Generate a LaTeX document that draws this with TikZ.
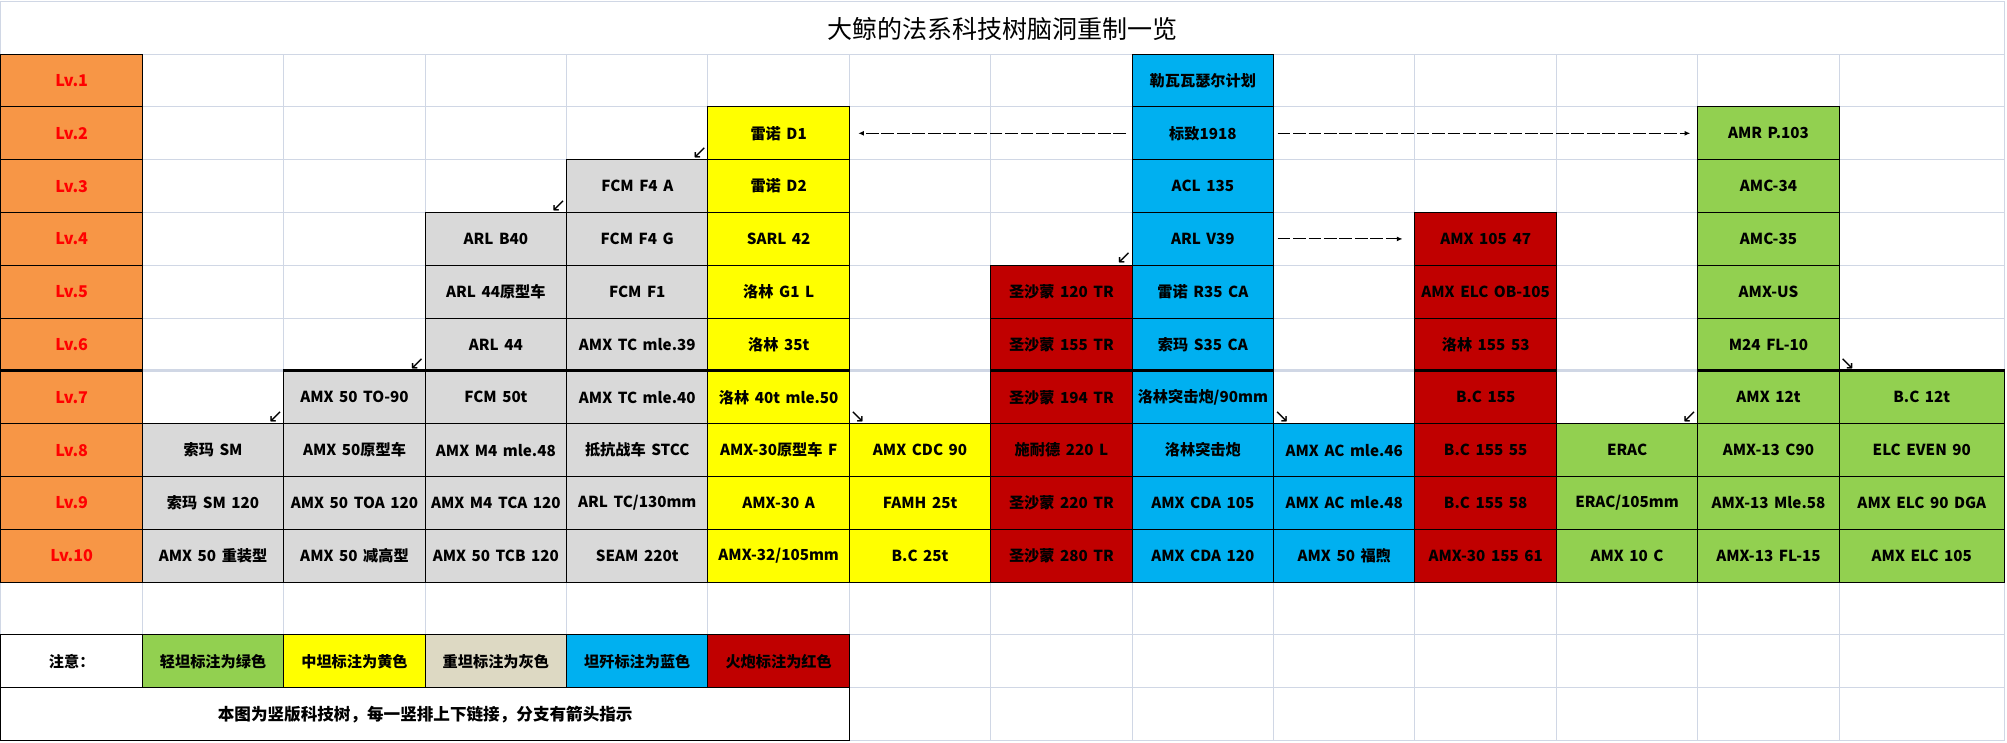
\documentclass[tikz,border=0pt]{standalone}
\usepackage{fontspec}
\setmainfont{Noto Sans CJK SC}[WordSpace=1.6]
\newfontfamily\symfont{DejaVu Sans}
\usetikzlibrary{arrows.meta}

\definecolor{lvorange}{HTML}{F79646}
\definecolor{lvred}{HTML}{FF0000}
\definecolor{heavygray}{HTML}{D9D9D9}
\definecolor{medyellow}{HTML}{FFFF00}
\definecolor{tdblue}{HTML}{00B0F0}
\definecolor{spgred}{HTML}{C00000}
\definecolor{lightgreen}{HTML}{92D050}
\definecolor{beige}{HTML}{DDD9C3}
\definecolor{gridc}{HTML}{D0D7E5}

\begin{document}
\begin{tikzpicture}[x=3.535cm, y=-1.32cm,
	cell/.style={draw=black, line width=0.7pt, minimum width=3.535cm, minimum height=1.32cm, inner sep=0pt, font=\bfseries\fontsize{10.8}{13}\selectfont},
	lv/.style={cell, fill=lvorange, text=lvred, font=\bfseries\fontsize{11.5}{14}\selectfont},
	heavy/.style={cell, fill=heavygray},
	medium/.style={cell, fill=medyellow},
	td/.style={cell, fill=tdblue},
	spg/.style={cell, fill=spgred},
	light/.style={cell, fill=lightgreen},
	wide/.style={minimum width=4.1325cm},
	corner/.style={font=\symfont\fontsize{13}{13}\selectfont, inner sep=0.5pt},
	link/.style={line width=0.7pt, dash pattern=on 9pt off 2pt, -{Latex[length=4pt,width=3.5pt]}}]

		\useasboundingbox (-0.007,-0.025) rectangle (14.187,14.047);

		% Grid
		\draw[gridc, line width=0.7pt] (0,0) rectangle (14.169,14);
		\foreach \i in {1,...,13} \draw[gridc, line width=0.7pt] (\i,1) -- (\i,14);
		\foreach \j in {1,...,13} \draw[gridc, line width=0.7pt] (0,\j) -- (14.169,\j);

		\node[font=\fontsize{17.8}{20}\selectfont] (title) at (7.084,0.52) {大鲸的法系科技树脑洞重制一览};

		% Levels
		\node[lv] (lv1) at (0.5,1.5) {Lv.1};
		\node[lv] (lv2) at (0.5,2.5) {Lv.2};
		\node[lv] (lv3) at (0.5,3.5) {Lv.3};
		\node[lv] (lv4) at (0.5,4.5) {Lv.4};
		\node[lv] (lv5) at (0.5,5.5) {Lv.5};
		\node[lv] (lv6) at (0.5,6.5) {Lv.6};
		\node[lv] (lv7) at (0.5,7.5) {Lv.7};
		\node[lv] (lv8) at (0.5,8.5) {Lv.8};
		\node[lv] (lv9) at (0.5,9.5) {Lv.9};
		\node[lv] (lv10) at (0.5,10.5) {Lv.10};

		% Heavy tanks
		\node[heavy] (c1_8) at (1.5,8.5) {索玛 SM};
		\node[heavy] (c1_9) at (1.5,9.5) {索玛 SM 120};
		\node[heavy] (c1_10) at (1.5,10.5) {AMX 50 重装型};

		\node[heavy] (c2_7) at (2.5,7.5) {AMX 50 TO-90};
		\node[heavy] (c2_8) at (2.5,8.5) {AMX 50原型车};
		\node[heavy] (c2_9) at (2.5,9.5) {AMX 50 TOA 120};
		\node[heavy] (c2_10) at (2.5,10.5) {AMX 50 减高型};

		\node[heavy] (c3_4) at (3.5,4.5) {ARL B40};
		\node[heavy] (c3_5) at (3.5,5.5) {ARL 44原型车};
		\node[heavy] (c3_6) at (3.5,6.5) {ARL 44};
		\node[heavy] (c3_7) at (3.5,7.5) {FCM 50t};
		\node[heavy] (c3_8) at (3.5,8.5) {AMX M4 mle.48};
		\node[heavy] (c3_9) at (3.5,9.5) {AMX M4 TCA 120};
		\node[heavy] (c3_10) at (3.5,10.5) {AMX 50 TCB 120};

		\node[heavy] (c4_3) at (4.5,3.5) {FCM F4 A};
		\node[heavy] (c4_4) at (4.5,4.5) {FCM F4 G};
		\node[heavy] (c4_5) at (4.5,5.5) {FCM F1};
		\node[heavy] (c4_6) at (4.5,6.5) {AMX TC mle.39};
		\node[heavy] (c4_7) at (4.5,7.5) {AMX TC mle.40};
		\node[heavy] (c4_8) at (4.5,8.5) {抵抗战车 STCC};
		\node[heavy] (c4_9) at (4.5,9.5) {ARL TC/130mm};
		\node[heavy] (c4_10) at (4.5,10.5) {SEAM 220t};

		% Medium tanks
		\node[medium] (c5_2) at (5.5,2.5) {雷诺 D1};
		\node[medium] (c5_3) at (5.5,3.5) {雷诺 D2};
		\node[medium] (c5_4) at (5.5,4.5) {SARL 42};
		\node[medium] (c5_5) at (5.5,5.5) {洛林 G1 L};
		\node[medium] (c5_6) at (5.5,6.5) {洛林 35t};
		\node[medium] (c5_7) at (5.5,7.5) {洛林 40t mle.50};
		\node[medium] (c5_8) at (5.5,8.5) {AMX-30原型车 F};
		\node[medium] (c5_9) at (5.5,9.5) {AMX-30 A};
		\node[medium] (c5_10) at (5.5,10.5) {AMX-32/105mm};

		\node[medium] (c6_8) at (6.5,8.5) {AMX CDC 90};
		\node[medium] (c6_9) at (6.5,9.5) {FAMH 25t};
		\node[medium] (c6_10) at (6.5,10.5) {B.C 25t};

		% Artillery
		\node[spg] (c7_5) at (7.5,5.5) {圣沙蒙 120 TR};
		\node[spg] (c7_6) at (7.5,6.5) {圣沙蒙 155 TR};
		\node[spg] (c7_7) at (7.5,7.5) {圣沙蒙 194 TR};
		\node[spg] (c7_8) at (7.5,8.5) {施耐德 220 L};
		\node[spg] (c7_9) at (7.5,9.5) {圣沙蒙 220 TR};
		\node[spg] (c7_10) at (7.5,10.5) {圣沙蒙 280 TR};

		% Tank destroyers
		\node[td] (c8_1) at (8.5,1.5) {勒瓦瓦瑟尔计划};
		\node[td] (c8_2) at (8.5,2.5) {标致1918};
		\node[td] (c8_3) at (8.5,3.5) {ACL 135};
		\node[td] (c8_4) at (8.5,4.5) {ARL V39};
		\node[td] (c8_5) at (8.5,5.5) {雷诺 R35 CA};
		\node[td] (c8_6) at (8.5,6.5) {索玛 S35 CA};
		\node[td] (c8_7) at (8.5,7.5) {洛林突击炮/90mm};
		\node[td] (c8_8) at (8.5,8.5) {洛林突击炮};
		\node[td] (c8_9) at (8.5,9.5) {AMX CDA 105};
		\node[td] (c8_10) at (8.5,10.5) {AMX CDA 120};

		\node[td] (c9_8) at (9.5,8.5) {AMX AC mle.46};
		\node[td] (c9_9) at (9.5,9.5) {AMX AC mle.48};
		\node[td] (c9_10) at (9.5,10.5) {AMX 50 福煦};

		\node[spg] (c10_4) at (10.5,4.5) {AMX 105 47};
		\node[spg] (c10_5) at (10.5,5.5) {AMX ELC OB-105};
		\node[spg] (c10_6) at (10.5,6.5) {洛林 155 53};
		\node[spg] (c10_7) at (10.5,7.5) {B.C 155};
		\node[spg] (c10_8) at (10.5,8.5) {B.C 155 55};
		\node[spg] (c10_9) at (10.5,9.5) {B.C 155 58};
		\node[spg] (c10_10) at (10.5,10.5) {AMX-30 155 61};

		% Light tanks
		\node[light] (c11_8) at (11.5,8.5) {ERAC};
		\node[light] (c11_9) at (11.5,9.5) {ERAC/105mm};
		\node[light] (c11_10) at (11.5,10.5) {AMX 10 C};

		\node[light] (c12_2) at (12.5,2.5) {AMR P.103};
		\node[light] (c12_3) at (12.5,3.5) {AMC-34};
		\node[light] (c12_4) at (12.5,4.5) {AMC-35};
		\node[light] (c12_5) at (12.5,5.5) {AMX-US};
		\node[light] (c12_6) at (12.5,6.5) {M24 FL-10};
		\node[light] (c12_7) at (12.5,7.5) {AMX 12t};
		\node[light] (c12_8) at (12.5,8.5) {AMX-13 C90};
		\node[light] (c12_9) at (12.5,9.5) {AMX-13 Mle.58};
		\node[light] (c12_10) at (12.5,10.5) {AMX-13 FL-15};

		\node[light, wide] (c13_7) at (13.5845,7.5) {B.C 12t};
		\node[light, wide] (c13_8) at (13.5845,8.5) {ELC EVEN 90};
		\node[light, wide] (c13_9) at (13.5845,9.5) {AMX ELC 90 DGA};
		\node[light, wide] (c13_10) at (13.5845,10.5) {AMX ELC 105};

		% Lv.6 / Lv.7 border
		\draw[gridc, line width=1.8pt] (lv7.north west) -- (c13_7.north east);
		\draw[line width=1.8pt] (lv7.north west) -- (lv7.north east);
		\draw[line width=1.8pt] (c2_7.north west) -- (c5_7.north east);
		\draw[line width=1.8pt] (c7_7.north west) -- (c8_7.north east);
		\draw[line width=1.8pt] (c10_7.north west) -- (c10_7.north east);
		\draw[line width=1.8pt] (c12_7.north west) -- (c13_7.north east);

		% Branches
		\node[corner, anchor=south east] (b1) at (c1_8.north east) {↙};
		\node[corner, anchor=south east] (b2) at (c2_7.north east) {↙};
		\node[corner, anchor=south east] (b3) at (c3_4.north east) {↙};
		\node[corner, anchor=south east] (b4) at (c4_3.north east) {↙};
		\node[corner, anchor=south east] (b7) at (c7_5.north east) {↙};
		\node[corner, anchor=south east] (b11) at (c11_8.north east) {↙};
		\node[corner, anchor=south west] (b6) at (c6_8.north west) {↘};
		\node[corner, anchor=south west] (b9) at (c9_8.north west) {↘};
		\node[corner, anchor=south west] (b13) at (c13_7.north west) {↘};

		\draw[link, shorten <=4pt, shorten >=6pt] (c8_2.west) -- (c5_2.east);
		\draw[link, shorten <=2.5pt, shorten >=5pt] (c8_2.east) -- (c12_2.west);
		\draw[link, shorten <=2.5pt, shorten >=8.5pt] (c8_4.east) -- (c10_4.west);

		% Legend
		\node[cell, fill=white] (note) at (0.5,12.5) {注意：};
		\node[light] (key_lt) at (1.5,12.5) {轻坦标注为绿色};
		\node[medium] (key_mt) at (2.5,12.5) {中坦标注为黄色};
		\node[cell, fill=beige] (key_ht) at (3.5,12.5) {重坦标注为灰色};
		\node[td] (key_td) at (4.5,12.5) {坦歼标注为蓝色};
		\node[spg] (key_spg) at (5.5,12.5) {火炮标注为红色};
		\node[cell, fill=white, minimum width=21.21cm, font=\bfseries\fontsize{11.8}{14}\selectfont] (remark) at (3,13.5) {本图为竖版科技树，每一竖排上下链接，分支有箭头指示};

\end{tikzpicture}
\end{document}
